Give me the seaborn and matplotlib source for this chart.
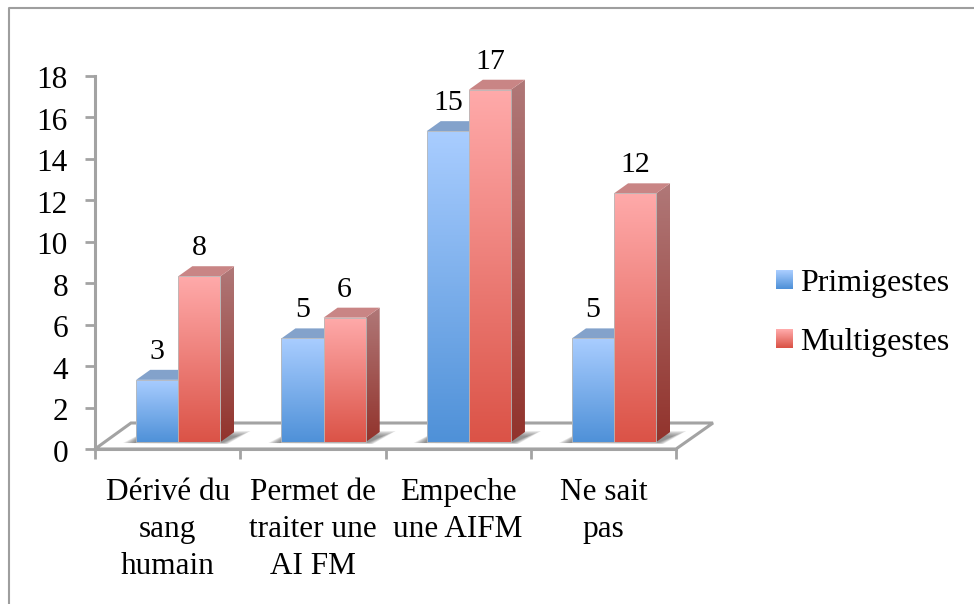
import numpy as np
import pandas as pd
import matplotlib
matplotlib.use("Agg")
import matplotlib.pyplot as plt
import seaborn as sns
from matplotlib.lines import Line2D
from matplotlib.patches import Polygon, Patch
from matplotlib.transforms import IdentityTransform, ScaledTranslation
from matplotlib.colors import LinearSegmentedColormap

categories = ["Dérivé du\nsang\nhumain", "Permet de\ntraiter une\nAI FM", "Empeche\nune AIFM", "Ne sait\npas"]
primigestes = [3, 5, 15, 5]
multigestes = [8, 6, 17, 12]
series_names = ["Primigestes", "Multigestes"]

W, H, DPI = 974, 604, 100
sns.set_theme(style="white")
plt.rcParams["font.family"] = ["Liberation Serif", "DejaVu Serif"]
FS = 22.5
GREY = "#a3a3a3"
DX, DY = 14, 10          # depth of 3D faces, px
OX, OY = 10.7, 7         # front-plane offset from the axis plane, px

df = pd.DataFrame({
    "cat": categories * 2,
    "val": primigestes + multigestes,
    "serie": [series_names[0]] * 4 + [series_names[1]] * 4,
})

fig = plt.figure(figsize=(W / DPI, H / DPI), dpi=DPI, facecolor="white")
ax = fig.add_axes([95 / W, 1 - 449 / H, 581 / W, 373 / H])
sns.barplot(data=df, x="cat", y="val", hue="serie", ax=ax, width=0.58, gap=0,
            order=categories, hue_order=series_names,
            palette=["#7fb0e8", "#ee8a84"], legend=False, saturation=1, zorder=5)
bars = list(ax.patches)
ax.set_xlim(-0.5, 3.5)
ax.set_ylim(0, 18)
ax.set_xlabel("")
ax.set_ylabel("")
ax.patch.set_alpha(0)

# axes styling
for s in ["top", "right"]:
    ax.spines[s].set_visible(False)
for s in ["left", "bottom"]:
    ax.spines[s].set_color(GREY)
    ax.spines[s].set_linewidth(2.2)
ax.set_yticks(range(0, 19, 2))
ax.tick_params(axis="y", length=7, width=2, color=GREY, labelsize=FS, pad=12.5, left=True)
ax.tick_params(axis="x", which="major", length=0, labelsize=FS, pad=21)
ax.set_xticks(np.arange(-0.5, 4, 1), minor=True)
ax.tick_params(axis="x", which="minor", length=7, width=2, color=GREY, bottom=True)
ax.set_xticks(range(4))
ax.set_xticklabels(categories, linespacing=1.36, color="black")
for t in ax.get_yticklabels():
    t.set_color("black")
    t.set_transform(t.get_transform() + ScaledTranslation(0, -1.5 / DPI, fig.dpi_scale_trans))

px = IdentityTransform()
to_px = ax.transData.transform
to_data = ax.transData.inverted().transform


def grad(top, bottom, n=128):
    return LinearSegmentedColormap.from_list("g", [top, bottom])(np.linspace(0, 1, n))[:, None, :]


def fill(verts, top, bottom, z):
    verts = np.asarray(verts, float)
    (x0, y0), (x1, y1) = to_data(verts.min(axis=0)), to_data(verts.max(axis=0))
    clip = Polygon(verts, closed=True, transform=px, fc="none", ec="none")
    ax.add_patch(clip)
    im = ax.imshow(grad(top, bottom), extent=(x0, x1, y0, y1), aspect="auto", zorder=z,
                   interpolation="bilinear")
    im.set_clip_path(clip)
    return im


# floor of the 3D chart
fl0, fl1 = to_px((-0.5, 0)), to_px((3.5, 0))
floor = Polygon([fl0, fl1, fl1 + (37, 26), fl0 + (36, 26)], closed=True, transform=px,
                fc="white", ec=GREY, lw=2.2, zorder=1, clip_on=False)
ax.add_patch(floor)

top_cols = {0: ("#a9cdff", "#4f91d8", "#83a2cb", "#83a2cb"),
            1: ("#ffaaaa", "#db5347", "#c98585", "#c98585")}
side_cols = {0: ("#7f9fc8", "#4a78a8"), 1: ("#b07878", "#92332c")}

n_cat = len(categories)
d = np.array([DX, DY])
for i, bar in enumerate(bars):
    s = i // n_cat
    x, w, h = bar.get_x(), bar.get_width(), bar.get_height()
    bl = to_px((x, 0)) + (OX, OY)
    br = to_px((x + w, 0)) + (OX, OY)
    tl = to_px((x, h)) + (OX, OY)
    tr = to_px((x + w, h)) + (OX, OY)
    z = 3 + s * 2
    # soft shadow on the floor, around the base of the pair of bars
    if s == 1:
        gl = bl - ((br - bl)[0], 0)
        for k in range(6):
            ax.add_patch(Polygon([gl + (-13 + 2 * k, -1), br + (7 - k, -2 + 0.3 * k),
                                  br + d + (16 - 2.5 * k, 1 - k), gl + d + (-6, 0)],
                                 closed=True, transform=px, fc="#444444", ec="none", alpha=0.13,
                                 zorder=2, clip_on=False))
    # side and top faces
    fill([br, tr, tr + d, br + d], side_cols[s][0], side_cols[s][1], z)
    ax.add_patch(Polygon([tl, tr, tr + d, tl + d], closed=True, transform=px,
                         fc=top_cols[s][2], ec="none", zorder=z, clip_on=False))
    # front face: the seaborn bar moved onto the front plane, with a gradient
    bar.set_transform(ax.transData + ScaledTranslation(OX / DPI, OY / DPI, fig.dpi_scale_trans))
    bar.set_facecolor("none")
    bar.set_edgecolor("#b9b9b9")
    bar.set_linewidth(0.6)
    bar.set_zorder(z + 2)
    bar.set_clip_on(False)
    fill([bl, br, tr, tl], top_cols[s][0], top_cols[s][1], z + 1)
    # value label
    lab = primigestes if s == 0 else multigestes
    ax.annotate(str(lab[i % n_cat]), xy=((tl + tr) / 2), xycoords=px, xytext=(0, 28 * 72 / DPI),
                textcoords="offset points", ha="center", va="center", fontsize=FS - 1, color="black",
                annotation_clip=False, zorder=20)

ax.set_xlim(-0.5, 3.5)
ax.set_ylim(0, 18)

# legend
handles = [Patch(facecolor=top_cols[i][0], edgecolor="none", label=series_names[i]) for i in range(2)]
leg = ax.legend(handles=handles, loc="center left", bbox_to_anchor=(776 / W, 1 - 313 / H),
                bbox_transform=fig.transFigure, frameon=False, fontsize=23, handlelength=0.53, handleheight=0.53,
                labelspacing=0.95, handletextpad=0.22, borderpad=0, borderaxespad=0, labelcolor="black")
fig.canvas.draw()
for i, p in enumerate(leg.get_patches()):
    bb = p.get_window_extent()
    hpx, wpx = int(round(bb.height)), int(round(bb.width))
    arr = np.repeat(grad(top_cols[i][0], top_cols[i][1], hpx), wpx, axis=1)
    fig.figimage(arr, int(round(bb.x0)), int(round(bb.y0)), origin="upper", zorder=10)

# outer chart frame: only the left and top edges are visible
fig.add_artist(Line2D([9 / W, 9 / W, 1], [0, 1 - 8 / H, 1 - 8 / H], transform=fig.transFigure,
                      color="#9e9e9e", lw=1.5, zorder=0))

fig.savefig("out.png", dpi=DPI)
